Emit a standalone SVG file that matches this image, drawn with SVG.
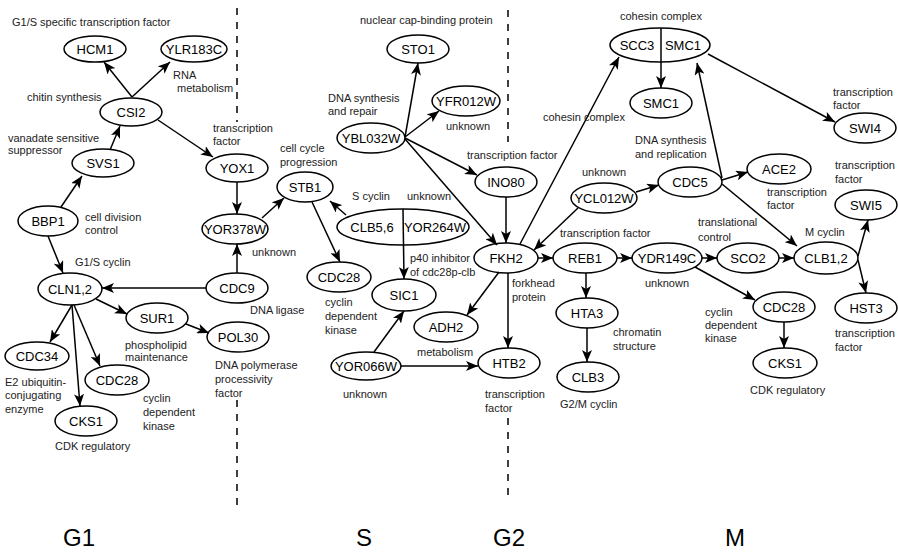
<svg xmlns="http://www.w3.org/2000/svg" width="898" height="554" viewBox="0 0 898 554">
<style>
.n ellipse{fill:#fff;stroke:#000;stroke-width:1.5}
.n text{font-family:"Liberation Sans",Arial,sans-serif;font-size:13px;text-anchor:middle;fill:#000}
.e line{stroke:#000;stroke-width:1.5;marker-end:url(#ah)}
.a{font-family:"Liberation Sans",Arial,sans-serif;font-size:11px;fill:#222}
.ph{font-family:"Liberation Sans",Arial,sans-serif;font-size:24px;fill:#000}
.d{stroke:#000;stroke-width:1.5;stroke-dasharray:7,7}
</style>
<defs>
<marker id="ah" viewBox="0 0 12 10" refX="12" refY="5" markerWidth="12" markerHeight="10" markerUnits="userSpaceOnUse" orient="auto">
<path d="M0,0 L12,5 L0,10 L3,5 Z" fill="#000"/>
</marker>
</defs>
<rect width="898" height="554" fill="#fff"/>
<g id="phases">
<line class="d" x1="237" y1="8" x2="237" y2="122"/>
<line class="d" x1="237" y1="400" x2="237" y2="510"/>
<line class="d" x1="508" y1="10" x2="508" y2="142"/>
<line class="d" x1="508" y1="418" x2="508" y2="502"/>
<text class="ph" x="63" y="546">G1</text>
<text class="ph" x="356" y="546">S</text>
<text class="ph" x="493" y="546">G2</text>
<text class="ph" x="725" y="546">M</text>
</g>
<g id="HCM1" class="n"><ellipse cx="95" cy="49" rx="31" ry="13"/><text x="95" y="54">HCM1</text></g>
<g id="YLR183C" class="n"><ellipse cx="194" cy="49" rx="33" ry="13"/><text x="194" y="54">YLR183C</text></g>
<g id="CSI2" class="n"><ellipse cx="131" cy="112" rx="31" ry="14"/><text x="131" y="117">CSI2</text></g>
<g id="SVS1" class="n"><ellipse cx="103" cy="163" rx="31" ry="14"/><text x="103" y="168">SVS1</text></g>
<g id="YOX1" class="n"><ellipse cx="237" cy="168" rx="31" ry="14"/><text x="237" y="173">YOX1</text></g>
<g id="BBP1" class="n"><ellipse cx="48" cy="221" rx="30" ry="15"/><text x="48" y="226">BBP1</text></g>
<g id="YOR378W" class="n"><ellipse cx="235" cy="229" rx="33" ry="15"/><text x="235" y="234">YOR378W</text></g>
<g id="CLN12" class="n"><ellipse cx="70" cy="289" rx="32" ry="16"/><text x="70" y="294">CLN1,2</text></g>
<g id="CDC9" class="n"><ellipse cx="237" cy="288" rx="31" ry="15"/><text x="237" y="293">CDC9</text></g>
<g id="SUR1" class="n"><ellipse cx="157" cy="318" rx="31" ry="15"/><text x="157" y="323">SUR1</text></g>
<g id="POL30" class="n"><ellipse cx="238" cy="337" rx="31" ry="15"/><text x="238" y="342">POL30</text></g>
<g id="CDC34" class="n"><ellipse cx="37" cy="356" rx="32" ry="14"/><text x="37" y="361">CDC34</text></g>
<g id="CDC28_G1" class="n"><ellipse cx="117" cy="380" rx="32" ry="15"/><text x="117" y="385">CDC28</text></g>
<g id="CKS1_G1" class="n"><ellipse cx="86" cy="421" rx="31" ry="15"/><text x="86" y="426">CKS1</text></g>
<g id="STO1" class="n"><ellipse cx="418" cy="49" rx="31" ry="14"/><text x="418" y="54">STO1</text></g>
<g id="YFR012W" class="n"><ellipse cx="466" cy="101" rx="34" ry="15"/><text x="466" y="106">YFR012W</text></g>
<g id="YBL032W" class="n"><ellipse cx="371" cy="138" rx="34" ry="15"/><text x="371" y="143">YBL032W</text></g>
<g id="STB1" class="n"><ellipse cx="305" cy="187" rx="28" ry="15"/><text x="305" y="192">STB1</text></g>
<g id="CLB56_YOR264W" class="n"><ellipse cx="403" cy="227" rx="66" ry="18"/><text x="372" y="232">CLB5,6</text><text x="435" y="232">YOR264W</text></g>
<g id="CDC28_S" class="n"><ellipse cx="339" cy="277" rx="32" ry="15"/><text x="339" y="282">CDC28</text></g>
<g id="SIC1" class="n"><ellipse cx="404" cy="295" rx="32" ry="16"/><text x="404" y="300">SIC1</text></g>
<g id="YOR066W" class="n"><ellipse cx="366" cy="366" rx="35" ry="14"/><text x="366" y="371">YOR066W</text></g>
<g id="ADH2" class="n"><ellipse cx="446" cy="327" rx="32" ry="15"/><text x="446" y="332">ADH2</text></g>
<g id="INO80" class="n"><ellipse cx="506" cy="182" rx="31" ry="15"/><text x="506" y="187">INO80</text></g>
<g id="FKH2" class="n"><ellipse cx="506" cy="258" rx="32" ry="15"/><text x="506" y="263">FKH2</text></g>
<g id="HTB2" class="n"><ellipse cx="509" cy="363" rx="31" ry="15"/><text x="509" y="368">HTB2</text></g>
<g id="SCC3_SMC1" class="n"><ellipse cx="660" cy="45" rx="50" ry="17"/><text x="637" y="50">SCC3</text><text x="683" y="50">SMC1</text></g>
<g id="SMC1" class="n"><ellipse cx="661" cy="103" rx="31" ry="15"/><text x="661" y="108">SMC1</text></g>
<g id="SWI4" class="n"><ellipse cx="865" cy="128" rx="31" ry="15"/><text x="865" y="133">SWI4</text></g>
<g id="YCL012W" class="n"><ellipse cx="604" cy="198" rx="33" ry="15"/><text x="604" y="203">YCL012W</text></g>
<g id="CDC5" class="n"><ellipse cx="690" cy="182" rx="32" ry="15"/><text x="690" y="187">CDC5</text></g>
<g id="ACE2" class="n"><ellipse cx="779" cy="169" rx="32" ry="15"/><text x="779" y="174">ACE2</text></g>
<g id="REB1" class="n"><ellipse cx="585" cy="258" rx="32" ry="15"/><text x="585" y="263">REB1</text></g>
<g id="YDR149C" class="n"><ellipse cx="667" cy="258" rx="35" ry="15"/><text x="667" y="263">YDR149C</text></g>
<g id="SCO2" class="n"><ellipse cx="748" cy="258" rx="31" ry="15"/><text x="748" y="263">SCO2</text></g>
<g id="CLB12" class="n"><ellipse cx="826" cy="258" rx="32" ry="16"/><text x="826" y="263">CLB1,2</text></g>
<g id="SWI5" class="n"><ellipse cx="866" cy="205" rx="31" ry="15"/><text x="866" y="210">SWI5</text></g>
<g id="HST3" class="n"><ellipse cx="866" cy="308" rx="31" ry="15"/><text x="866" y="313">HST3</text></g>
<g id="CDC28_M" class="n"><ellipse cx="784" cy="307" rx="31" ry="15"/><text x="784" y="312">CDC28</text></g>
<g id="CKS1_M" class="n"><ellipse cx="785" cy="363" rx="32" ry="15"/><text x="785" y="368">CKS1</text></g>
<g id="HTA3" class="n"><ellipse cx="587" cy="313" rx="31" ry="15"/><text x="587" y="318">HTA3</text></g>
<g id="CLB3" class="n"><ellipse cx="588" cy="377" rx="31" ry="15"/><text x="588" y="382">CLB3</text></g>
<g id="connectors" class="e">
<line x1="132" y1="97" x2="104" y2="62"/>
<line x1="132" y1="97" x2="170" y2="62"/>
<line x1="110" y1="150" x2="120" y2="126"/>
<line x1="158" y1="120" x2="213" y2="157"/>
<line x1="61" y1="207" x2="82" y2="176"/>
<line x1="48" y1="236" x2="63" y2="273"/>
<line x1="237" y1="182" x2="237" y2="214"/>
<line x1="262" y1="218" x2="284" y2="198"/>
<line x1="237" y1="273" x2="237" y2="244"/>
<line x1="206" y1="288" x2="102" y2="288"/>
<line x1="96" y1="299" x2="127" y2="314"/>
<line x1="186" y1="324" x2="209" y2="333"/>
<line x1="72" y1="305" x2="50" y2="342"/>
<line x1="72" y1="305" x2="80" y2="406"/>
<line x1="74" y1="305" x2="100" y2="366"/>
<line x1="405" y1="137" x2="418" y2="63"/>
<line x1="405" y1="137" x2="439" y2="111"/>
<line x1="405" y1="138" x2="477" y2="175"/>
<line x1="405" y1="139" x2="497" y2="245"/>
<line x1="346" y1="215" x2="330" y2="201"/>
<line x1="312" y1="202" x2="340" y2="262"/>
<line x1="403" y1="209" x2="404" y2="279"/>
<line x1="374" y1="352" x2="404" y2="311"/>
<line x1="401" y1="366" x2="478" y2="366"/>
<line x1="506" y1="197" x2="506" y2="243"/>
<line x1="499" y1="272" x2="467" y2="315"/>
<line x1="508" y1="273" x2="508" y2="348"/>
<line x1="520" y1="244" x2="619" y2="57"/>
<line x1="578" y1="208" x2="534" y2="250"/>
<line x1="636" y1="192" x2="659" y2="185"/>
<line x1="538" y1="258" x2="553" y2="258"/>
<line x1="617" y1="258" x2="632" y2="258"/>
<line x1="586" y1="273" x2="586" y2="298"/>
<line x1="587" y1="328" x2="587" y2="362"/>
<line x1="702" y1="258" x2="717" y2="258"/>
<line x1="695" y1="267" x2="755" y2="300"/>
<line x1="779" y1="258" x2="794" y2="258"/>
<line x1="784" y1="322" x2="784" y2="348"/>
<line x1="722" y1="178" x2="697" y2="63"/>
<line x1="722" y1="180" x2="748" y2="172"/>
<line x1="722" y1="184" x2="797" y2="246"/>
<line x1="708" y1="54" x2="835" y2="122"/>
<line x1="661" y1="28" x2="661" y2="88"/>
<line x1="858" y1="256" x2="868" y2="220"/>
<line x1="858" y1="260" x2="866" y2="293"/>
</g>
<g id="annotations" class="a">
<text x="12" y="26">G1/S specific transcription factor</text>
<text x="173" y="79">RNA</text><text x="177" y="92">metabolism</text>
<text x="27" y="101">chitin synthesis</text>
<text x="8" y="142">vanadate sensitive</text><text x="8" y="154">suppressor</text>
<text x="213" y="132">transcription</text><text x="213" y="145">factor</text>
<text x="85" y="221">cell division</text><text x="85" y="234">control</text>
<text x="75" y="266">G1/S cyclin</text>
<text x="252" y="256">unknown</text>
<text x="250" y="314">DNA ligase</text>
<text x="125" y="349">phospholipid</text><text x="125" y="361">maintenance</text>
<text x="215" y="369">DNA polymerase</text><text x="215" y="383">processivity</text><text x="215" y="397">factor</text>
<text x="5" y="386">E2 ubiquitin-</text><text x="5" y="399">conjugating</text><text x="5" y="413">enzyme</text>
<text x="143" y="402">cyclin</text><text x="143" y="416">dependent</text><text x="143" y="430">kinase</text>
<text x="55" y="450">CDK regulatory</text>
<text x="360" y="24">nuclear cap-binding protein</text>
<text x="328" y="102">DNA synthesis</text><text x="328" y="115">and repair</text>
<text x="446" y="130">unknown</text>
<text x="467" y="159">transcription factor</text>
<text x="280" y="152">cell cycle</text><text x="280" y="166">progression</text>
<text x="352" y="200">S cyclin</text><text x="407" y="200">unknown</text>
<text x="325" y="306">cyclin</text><text x="325" y="320">dependent</text><text x="325" y="334">kinase</text>
<text x="410" y="262">p40 inhibitor</text><text x="410" y="276">of cdc28p-clb</text>
<text x="512" y="287">forkhead</text><text x="512" y="301">protein</text>
<text x="417" y="356">metabolism</text>
<text x="343" y="398">unknown</text>
<text x="485" y="398">transcription</text><text x="485" y="412">factor</text>
<text x="620" y="20">cohesin complex</text>
<text x="543" y="121">cohesin complex</text>
<text x="833" y="96">transcription</text><text x="833" y="109">factor</text>
<text x="635" y="144">DNA synthesis</text><text x="635" y="158">and replication</text>
<text x="582" y="176">unknown</text>
<text x="767" y="196">transcription</text><text x="767" y="209">factor</text>
<text x="835" y="169">transcription</text><text x="835" y="183">factor</text>
<text x="560" y="237">transcription factor</text>
<text x="698" y="226">translational</text><text x="698" y="241">control</text>
<text x="805" y="236">M cyclin</text>
<text x="645" y="287">unknown</text>
<text x="613" y="336">chromatin</text><text x="613" y="350">structure</text>
<text x="705" y="316">cyclin</text><text x="705" y="329">dependent</text><text x="705" y="342">kinase</text>
<text x="835" y="337">transcription</text><text x="835" y="351">factor</text>
<text x="560" y="408">G2/M cyclin</text>
<text x="750" y="394">CDK regulatory</text>
</g>
</svg>
